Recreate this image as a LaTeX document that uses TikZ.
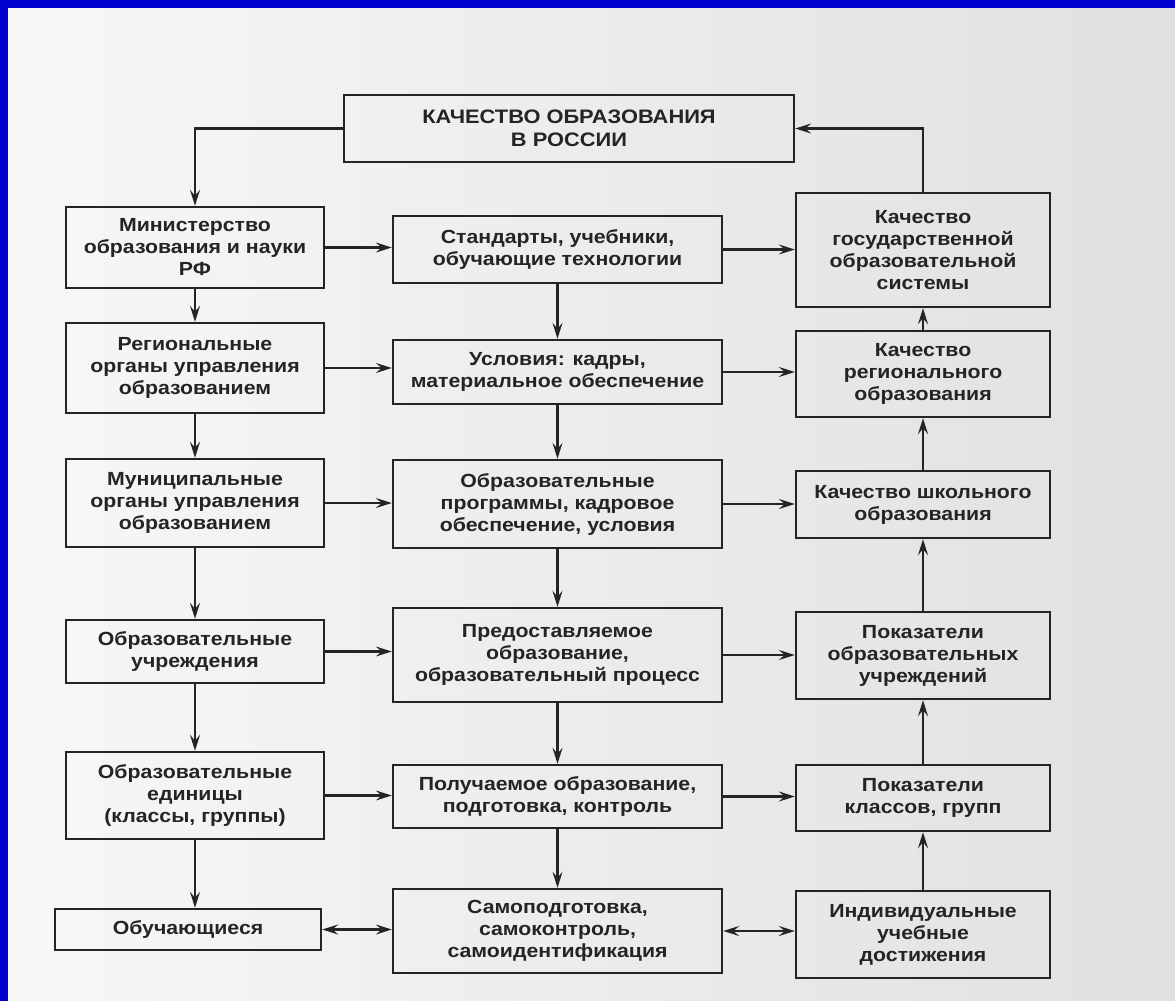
\documentclass[tikz,border=0pt]{standalone}
\usepackage{fontspec}
\usetikzlibrary{arrows.meta}
\newfontfamily\boxfont{Liberation Sans}[FakeStretch=1.12]
\definecolor{frameblue}{RGB}{0,0,204}
\definecolor{ink}{RGB}{36,36,36}

\begin{document}
\begin{tikzpicture}[x=1pt,y=-1pt,
    box/.style={draw=ink, line width=2.4pt, align=center, text=ink, inner sep=0pt,
      font=\boxfont\bfseries\fontsize{19}{22}\selectfont},
    link/.style={draw=ink, line width=2.2pt, -{Stealth[length=16pt,width=10pt,inset=6pt]}},
    twoway/.style={link, {Stealth[length=16pt,width=10pt,inset=6pt]}-{Stealth[length=16pt,width=10pt,inset=6pt]}}]
    \useasboundingbox (0,0) rectangle (1175,1001);
    \fill[frameblue] (0,0) rectangle (1175,1001);
    \shade[left color=white!97!black, right color=white!88!black] (8,8) rectangle (1175,1001);

    \node[box, minimum width=450, minimum height=67, font=\boxfont\bfseries\fontsize{19.5}{23}\selectfont]
      (quality) at (569,128.5) {КАЧЕСТВО ОБРАЗОВАНИЯ\\В РОССИИ};

    \node[box, minimum width=258, minimum height=81] (ministry) at (195,247.5) {Министерство\\образования и науки\\РФ};
    \node[box, minimum width=258, minimum height=90] (regional) at (195,368) {Региональные\\органы управления\\образованием};
    \node[box, minimum width=258, minimum height=88] (municipal) at (195,503) {Муниципальные\\органы управления\\образованием};
    \node[box, minimum width=258, minimum height=63] (institutions) at (195,651.5) {Образовательные\\учреждения};
    \node[box, minimum width=258, minimum height=87] (units) at (195,795.5) {Образовательные\\единицы\\(классы, группы)};
    \node[box, minimum width=266, minimum height=41] (learners) at (188,929.5) {Обучающиеся};

    \node[box, minimum width=329, minimum height=67] (standards) at (557.5,249.5) {Стандарты, учебники,\\обучающие технологии};
    \node[box, minimum width=329, minimum height=64] (conditions) at (557.5,372) {Условия: кадры,\\материальное обеспечение};
    \node[box, minimum width=329, minimum height=88] (programs) at (557.5,504) {Образовательные\\программы, кадровое\\обеспечение, условия};
    \node[box, minimum width=329, minimum height=94] (provided) at (557.5,655) {Предоставляемое\\образование,\\образовательный процесс};
    \node[box, minimum width=329, minimum height=63] (received) at (557.5,796.5) {Получаемое образование,\\подготовка, контроль};
    \node[box, minimum width=329, minimum height=84] (selfwork) at (557.5,931) {Самоподготовка,\\самоконтроль,\\самоидентификация};

    \node[box, minimum width=254, minimum height=114] (qstate) at (923,250) {Качество\\государственной\\образовательной\\системы};
    \node[box, minimum width=254, minimum height=86] (qregion) at (923,374) {Качество\\регионального\\образования};
    \node[box, minimum width=254, minimum height=67] (qschool) at (923,504.5) {Качество школьного\\образования};
    \node[box, minimum width=254, minimum height=87] (ind_inst) at (923,655.5) {Показатели\\образовательных\\учреждений};
    \node[box, minimum width=254, minimum height=66] (ind_class) at (923,798) {Показатели\\классов, групп};
    \node[box, minimum width=254, minimum height=87] (achieve) at (923,934.5) {Индивидуальные\\учебные\\достижения};

    \draw[link] (quality.west) -| (ministry.north);
    \draw[link] (qstate.north) |- (quality.east);

    \draw[link] (ministry) -- (regional);
    \draw[link] (regional) -- (municipal);
    \draw[link] (municipal) -- (institutions);
    \draw[link] (institutions) -- (units);
    \draw[link] (units.south) -- (units.south |- learners.north);

    \draw[link] (standards) -- (conditions);
    \draw[link] (conditions) -- (programs);
    \draw[link] (programs) -- (provided);
    \draw[link] (provided) -- (received);
    \draw[link] (received) -- (selfwork);

    \draw[link] (qregion) -- (qstate);
    \draw[link] (qschool) -- (qregion);
    \draw[link] (ind_inst) -- (qschool);
    \draw[link] (ind_class) -- (ind_inst);
    \draw[link] (achieve) -- (ind_class);

    \draw[link] (ministry.east) -- (ministry.east -| standards.west);
    \draw[link] (regional.east) -- (regional.east -| conditions.west);
    \draw[link] (municipal.east) -- (municipal.east -| programs.west);
    \draw[link] (institutions.east) -- (institutions.east -| provided.west);
    \draw[link] (units.east) -- (units.east -| received.west);
    \draw[twoway] (learners.east) -- (learners.east -| selfwork.west);

    \draw[link] (standards.east) -- (standards.east -| qstate.west);
    \draw[link] (conditions.east) -- (conditions.east -| qregion.west);
    \draw[link] (programs.east) -- (programs.east -| qschool.west);
    \draw[link] (provided.east) -- (provided.east -| ind_inst.west);
    \draw[link] (received.east) -- (received.east -| ind_class.west);
    \draw[twoway] (selfwork.east) -- (selfwork.east -| achieve.west);
\end{tikzpicture}
\end{document}
